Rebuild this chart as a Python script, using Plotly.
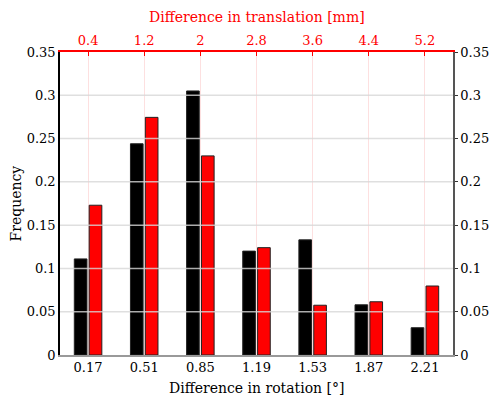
import plotly.graph_objects as go

rotation_ticks = [0.17, 0.51, 0.85, 1.19, 1.53, 1.87, 2.21]
translation_ticks = [0.4, 1.2, 2.0, 2.8, 3.6, 4.4, 5.2]
translation_labels = ["0.4", "1.2", "2", "2.8", "3.6", "4.4", "5.2"]
freq_rotation = [0.111, 0.244, 0.305, 0.120, 0.133, 0.058, 0.0315]
freq_translation = [0.173, 0.2745, 0.230, 0.124, 0.0575, 0.0615, 0.0797]
y_ticks = [0, 0.05, 0.1, 0.15, 0.2, 0.25, 0.3, 0.35]
y_labels = ["0", "0.05", "0.1", "0.15", "0.2", "0.25", "0.3", "0.35"]

FONT = "DejaVu Serif"
TICK = 13
TITLE = 14

fig = go.Figure()
fig.add_trace(go.Bar(x=rotation_ticks, y=freq_rotation, marker=dict(color="black", line=dict(color="#222", width=1)),
                     showlegend=False))
fig.add_trace(go.Bar(x=rotation_ticks, y=freq_translation, marker=dict(color="#ff0000", line=dict(color="#222", width=1)),
                     showlegend=False))
# helper traces to activate the secondary axes
fig.add_trace(go.Scatter(x=[None], y=[None], xaxis="x2", yaxis="y", showlegend=False, hoverinfo="skip"))
fig.add_trace(go.Scatter(x=[None], y=[None], xaxis="x", yaxis="y2", showlegend=False, hoverinfo="skip"))

# horizontal grid lines drawn above the bars
for v in y_ticks[1:-1]:
    fig.add_shape(type="line", xref="paper", x0=0, x1=1, yref="y", y0=v, y1=v,
                  line=dict(color="rgba(215,215,215,0.8)", width=1.5), layer="above")

# axis titles as annotations (serif font)
fig.add_annotation(text="Difference in translation [mm]", xref="paper", yref="paper", x=0.5, y=1.1155,
                   showarrow=False, font=dict(family=FONT, size=TITLE, color="#ff0000"), yanchor="middle")
fig.add_annotation(text="Difference in rotation [°]", xref="paper", yref="paper", x=0.5, y=-0.108,
                   showarrow=False, font=dict(family=FONT, size=TITLE, color="black"), yanchor="middle")
fig.add_annotation(text="Frequency", xref="paper", yref="paper", x=-0.1145, y=0.5, textangle=-90,
                   showarrow=False, font=dict(family=FONT, size=TITLE, color="black"), xanchor="center")

fig.update_layout(
    width=489, height=398,
    margin=dict(l=60, r=36, t=52, b=43),
    paper_bgcolor="white", plot_bgcolor="white",
    font=dict(family=FONT, size=TICK, color="black"),
    barmode="group", bargap=0.47, bargroupgap=0.15,
    xaxis=dict(range=[0, 2.38], tickvals=rotation_ticks, ticktext=[f"{v:.2f}" for v in rotation_ticks],
               showgrid=False, zeroline=False, showline=True, linecolor="#999", linewidth=1.5,
               ticks="", automargin=False),
    xaxis2=dict(range=[0, 5.6], tickvals=translation_ticks, ticktext=translation_labels,
                overlaying="x", side="top", anchor="y", automargin=False,
                showgrid=True, gridcolor="#fde0e0", gridwidth=1, zeroline=False,
                showline=True, linecolor="#ff0000", linewidth=1.5,
                ticks="inside", ticklen=4, tickcolor="#ff0000",
                tickfont=dict(color="#ff0000")),
    yaxis=dict(range=[0, 0.35], tickvals=y_ticks, ticktext=y_labels, showgrid=False, zeroline=False,
               showline=True, linecolor="black", linewidth=1.5, ticks="",
               automargin=False),
    yaxis2=dict(range=[0, 0.35], tickvals=y_ticks, ticktext=y_labels, overlaying="y", side="right", anchor="x",
                automargin=False,
                showgrid=False, zeroline=False, showline=True, linecolor="#555", linewidth=1.5,
                ticks="outside", ticklen=3, tickcolor="#333"),
)

fig.write_html("out.html", config={"displayModeBar": False},
               post_script="document.body.style.margin='0';")
